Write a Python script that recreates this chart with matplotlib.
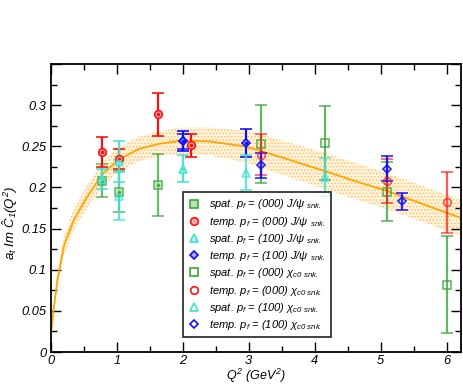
import matplotlib
matplotlib.use("Agg")
import matplotlib.pyplot as plt
from matplotlib.lines import Line2D
from matplotlib.ticker import MultipleLocator, FuncFormatter
from matplotlib.colors import to_rgb

plt.rcParams['font.family'] = ['Liberation Sans', 'DejaVu Sans']
plt.rcParams['mathtext.fontset'] = 'custom'
plt.rcParams['mathtext.it'] = 'Liberation Sans:italic'
plt.rcParams['mathtext.rm'] = 'Liberation Sans:italic'
plt.rcParams['hatch.linewidth'] = 0.6

# ---- fit curve and band ----
fit_q2 = [0.0, 0.05, 0.1, 0.2, 0.35, 0.53, 0.78, 1.03, 1.34, 1.64, 2.0, 2.4, 2.93, 3.16, 3.6, 4.17, 4.6, 5.09, 5.6, 6.25]
fit_val = [0.022, 0.058, 0.088, 0.130, 0.161, 0.186, 0.216, 0.234, 0.247, 0.253, 0.257, 0.256, 0.250, 0.245, 0.234, 0.2195, 0.208, 0.196, 0.181, 0.162]
fit_err = [0.004, 0.007, 0.009, 0.011, 0.013, 0.014, 0.015, 0.015, 0.015, 0.015, 0.016, 0.017, 0.019, 0.020, 0.021, 0.022, 0.022, 0.022, 0.022, 0.022]

# ---- data series ----
s000_jpsi_x = [0.77, 1.03, 1.63]
s000_jpsi_y = [0.208, 0.195, 0.203]
s000_jpsi_e = [0.020, 0.025, 0.038]

t000_jpsi_x = [0.77, 1.03, 1.63, 2.13]
t000_jpsi_y = [0.243, 0.235, 0.289, 0.251]
t000_jpsi_e = [0.018, 0.012, 0.026, 0.014]

s100_jpsi_x = [0.77, 1.03, 2.0]
s100_jpsi_y = [0.210, 0.232, 0.223]
s100_jpsi_e = [0.012, 0.025, 0.016]

t100_jpsi_x = [2.01, 2.96]
t100_jpsi_y = [0.256, 0.254]
t100_jpsi_e = [0.012, 0.017]

s000_chi_x = [3.18, 4.16, 5.10, 6.0]
s000_chi_y = [0.253, 0.254, 0.195, 0.082]
s000_chi_e = [0.047, 0.045, 0.036, 0.059]

t000_chi_x = [3.18, 5.10, 6.0]
t000_chi_y = [0.240, 0.208, 0.182]
t000_chi_e = [0.025, 0.027, 0.037]

s100_chi_x = [1.03, 2.96, 4.16]
s100_chi_y = [0.190, 0.218, 0.213]
s100_chi_e = [0.029, 0.021, 0.023]

t100_chi_x = [2.01, 3.18, 5.10, 5.32]
t100_chi_y = [0.256, 0.227, 0.223, 0.183]
t100_chi_e = [0.009, 0.015, 0.015, 0.010]

labels = [
    r"spat. $p_f$ = (000) J/ψ $_{snk.}$",
    r"temp. $p_f$ = (000) J/ψ $_{snk.}$",
    r"spat. $p_f$ = (100) J/ψ $_{snk.}$",
    r"temp. $p_f$ = (100) J/ψ $_{snk.}$",
    r"spat. $p_f$ = (000) χ$_{c0\ snk.}$",
    r"temp. $p_f$ = (000) χ$_{c0\ snk.}$",
    r"spat. $p_f$ = (100) χ$_{c0\ snk.}$",
    r"temp. $p_f$ = (100) χ$_{c0\ snk.}$",
]

GREEN = '#3aa63a'
RED = '#ff1010'
CYAN = '#40e0d0'
BLUE = '#1010ff'

series = [
    (s000_jpsi_x, s000_jpsi_y, s000_jpsi_e, GREEN, 's', 'fill', 0.75),
    (t000_jpsi_x, t000_jpsi_y, t000_jpsi_e, RED, 'o', 'fill', 1.0),
    (s100_jpsi_x, s100_jpsi_y, s100_jpsi_e, CYAN, '^', 'fill', 0.9),
    (t100_jpsi_x, t100_jpsi_y, t100_jpsi_e, BLUE, 'D', 'fill', 1.0),
    (s000_chi_x, s000_chi_y, s000_chi_e, GREEN, 's', 'open', 0.8),
    (t000_chi_x, t000_chi_y, t000_chi_e, RED, 'o', 'open', 0.7),
    (s100_chi_x, s100_chi_y, s100_chi_e, CYAN, '^', 'open', 0.8),
    (t100_chi_x, t100_chi_y, t100_chi_e, BLUE, 'D', 'open', 0.9),
]


def tint(col, f):
    r, g, b = to_rgb(col)
    return (1 - f * (1 - r), 1 - f * (1 - g), 1 - f * (1 - b))


fig = plt.figure(figsize=(4.63, 3.84), dpi=100)
ax = fig.add_axes([0.110, 0.0833, 0.8857, 0.75])

ax.fill_between(fit_q2, [v - e for v, e in zip(fit_val, fit_err)],
                [v + e for v, e in zip(fit_val, fit_err)],
                facecolor='#fff3de', edgecolor='#ffbe55', hatch='.....', linewidth=0, zorder=1)
ax.plot(fit_q2, fit_val, color='#ffa500', lw=1.3, zorder=2)

handles = []
for (xs, ys, es, col, mk, style, al) in series:
    ms = 5.5 if mk != 'D' else 4.2
    mfc = tint(col, 0.35) if style == 'fill' else 'none'
    ax.errorbar(xs, ys, yerr=es, fmt=mk, color=col, ecolor=col, elinewidth=1.6,
                capsize=4, capthick=1.6, ms=ms, mfc=mfc, mec=col, mew=1.2,
                alpha=al, zorder=3)
    if style == 'fill':
        ax.plot(xs, ys, ls='none', marker='o', ms=1.6, color=col, alpha=al, zorder=4)
    handles.append(Line2D([], [], ls='none', marker=mk, ms=ms, mfc=mfc, mec=col, mew=1.2))

ax.set_xlim(0, 6.22)
ax.set_ylim(0, 0.35)
ax.xaxis.set_major_locator(MultipleLocator(1))
ax.xaxis.set_minor_locator(MultipleLocator(0.5))
ax.yaxis.set_major_locator(MultipleLocator(0.05))
ax.yaxis.set_minor_locator(MultipleLocator(0.025))
ax.yaxis.set_major_formatter(FuncFormatter(lambda v, p: '%g' % round(v, 3) if v < 0.325 else ''))
ax.tick_params(which='both', direction='in', top=True, right=True, width=1.0)
ax.tick_params(which='major', length=7, labelsize=9.3)
ax.tick_params(axis='x', which='major', pad=2.5)
ax.tick_params(axis='y', which='major', pad=3)
ax.tick_params(which='minor', length=4)
for lab in ax.get_xticklabels() + ax.get_yticklabels():
    lab.set_fontstyle('italic')
for sp in ax.spines.values():
    sp.set_linewidth(1.3)

ax.set_xlabel(r"$Q^2\ (GeV^2)$", fontsize=9)
ax.xaxis.set_label_coords(0.5, -0.053)
ax.set_ylabel(r"$a_t\ Im\ \hat{C}_1(Q^2)$", fontsize=9.5)
ax.yaxis.set_label_coords(-0.075, 0.45)

leg = ax.legend(handles, labels, loc='lower left', bbox_to_anchor=(0.322, 0.052),
                fontsize=8, frameon=True, fancybox=False, edgecolor='black',
                handlelength=1.0, handletextpad=0.9, labelspacing=0.29,
                borderpad=0.45, borderaxespad=0)
leg.get_frame().set_linewidth(1.3)
for t in leg.get_texts():
    t.set_fontstyle('italic')
leg.set_zorder(5)

fig.savefig('out.png', dpi=100)
